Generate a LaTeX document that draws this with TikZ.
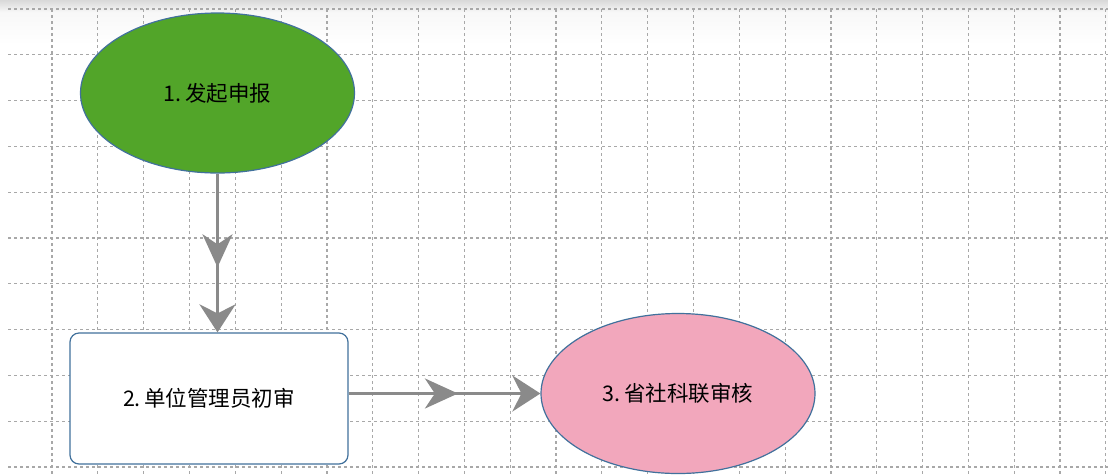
\documentclass[tikz,border=0pt]{standalone}
\usepackage{fontspec}
\newfontfamily\cjk{Noto Sans CJK SC}
\usetikzlibrary{arrows.meta,decorations.markings,shapes.geometric}
\definecolor{gridc}{HTML}{A8A8A8}
\definecolor{edgec}{HTML}{8A8A8A}
\definecolor{bordc}{HTML}{41719C}
\definecolor{greenc}{HTML}{52A529}
\definecolor{pinkc}{HTML}{F2A7BC}
\tikzset{
  gridline/.style={gridc, line width=1.2pt, dash pattern=on 3pt off 3pt},
  labelfont/.style={font=\cjk\fontsize{21.5}{24}\selectfont},
  ellnode/.style={ellipse, draw=bordc, line width=1.2pt, minimum width=274pt, minimum height=160pt, inner sep=0pt, labelfont},
  boxnode/.style={rectangle, rounded corners=9pt, draw=bordc, line width=1.2pt, fill=white, minimum width=278pt, minimum height=131pt, inner sep=0pt, labelfont},
  flow/.style={edgec, line width=3pt,
    -{Stealth[length=28pt,width=36pt,inset=9pt]},
    postaction={decorate}},
  midarrow/.style={decoration={markings, mark=at position #1 with {\arrow[edgec]{Stealth[length=33pt,width=30pt,inset=10pt]}}}}
}
\begin{document}
\begin{tikzpicture}[x=1pt,y=-1pt]
\useasboundingbox (0,0) rectangle (1108,475);
\fill[white] (0,0) rectangle (1108,475);
% top shadow
\shade[top color=gray!30, bottom color=gray!6] (0,0) rectangle (1108,12);
\shade[top color=gray!6, bottom color=white] (0,12) rectangle (1108,45);
% grid
\foreach \k in {0,...,10} {
  \draw[gridline] (8,{9+45.8*\k}) -- (1108,{9+45.8*\k});
}
\foreach \k in {0,...,23} {
  \draw[gridline] ({52+45.82*\k},9) -- ({52+45.82*\k},475);
}
% nodes
\node[ellnode, fill=greenc] (n1) at (217.5,93) {1.\,发起申报};
\node[boxnode] (n2) at (209,398.5) {2.\,单位管理员初审};
\node[ellnode, fill=pinkc] (n3) at (678,393.5) {3.\,省社科联审核};
% connectors
\draw[flow, midarrow=0.59] (n1.south) -- (n1.south |- n2.north);
\draw[flow, midarrow=0.57] (n2.east |- n3.west) -- (n3.west);
\end{tikzpicture}
\end{document}
